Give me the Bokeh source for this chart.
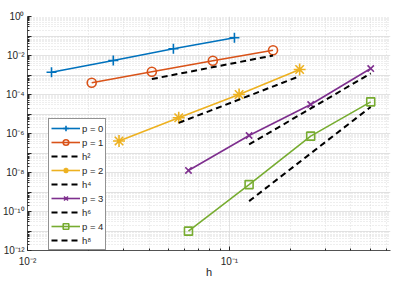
from bokeh.plotting import figure
from bokeh.models import Range1d, FixedTicker, CustomJSTickFormatter, Legend, LegendItem
from bokeh.embed import file_html
from bokeh.resources import INLINE

# ---- data ----
h_p0 = [0.01315, 0.0266, 0.0528, 0.1059]
err_p0 = [1.39e-3, 5.5e-3, 2.2e-2, 8.1e-2]

h_p1 = [0.0208, 0.0413, 0.0828, 0.1645]
err_p1 = [4.0e-4, 1.46e-3, 5.35e-3, 1.87e-2]
ref_h2_x = [0.0413, 0.1645]
ref_h2_y = [6.2e-4, 1.0e-2]

h_p2 = [0.0284, 0.0561, 0.1117, 0.2228]
err_p2 = [4.1e-7, 6.4e-6, 1.0e-4, 1.91e-3]
ref_h4_x = [0.0561, 0.2228]
ref_h4_y = [3.5e-6, 8.7e-4]

h_p3 = [0.0627, 0.1252, 0.2527, 0.5012]
err_p3 = [1.27e-8, 7.9e-7, 3.07e-5, 2.15e-3]
ref_h6_x = [0.1252, 0.5012]
ref_h6_y = [2.75e-7, 1.2e-3]

h_p4 = [0.0627, 0.1252, 0.2527, 0.5012]
err_p4 = [9.8e-12, 2.4e-9, 7.3e-7, 4.2e-5]
ref_h8_x = [0.1252, 0.5012]
ref_h8_y = [3.4e-10, 2.3e-5]

series_labels = ["p = 0", "p = 1", "p = 2", "p = 3", "p = 4"]
ref_labels = ["h\u00b2", "h\u2074", "h\u2076", "h\u2078"]
x_label = "h"

x_major = [0.01, 0.1]
x_minor = [m * 0.01 for m in range(2, 10)] + [m * 0.1 for m in range(2, 7)]
y_major = [10.0 ** (-k) for k in range(0, 13)]
y_minor = [m * 10.0 ** (-k) for k in range(1, 13) for m in range(2, 10)]

colors = ["#0072BD", "#D95319", "#EDB120", "#7E2F8E", "#77AC30"]
FONT = "Liberation Sans"
TXT = "#262626"

p = figure(x_axis_type="log", y_axis_type="log",
           frame_width=363, frame_height=234,
           min_border_left=22, min_border_top=16, min_border_right=3, min_border_bottom=20,
           output_backend="svg", toolbar_location=None,
           x_range=Range1d(0.01, 0.628), y_range=Range1d(1e-12, 1.0))
p.outline_line_color = None
p.background_fill_color = "white"

sup_js = """
const sup = {"-":"\u207b","0":"\u2070","1":"\u00b9","2":"\u00b2","3":"\u00b3","4":"\u2074",
             "5":"\u2075","6":"\u2076","7":"\u2077","8":"\u2078","9":"\u2079"};
const e = Math.round(Math.log10(tick));
%s
return "10" + String(e).split("").map(c => sup[c]).join("");
"""
p.xaxis.ticker = FixedTicker(ticks=x_major, minor_ticks=x_minor)
p.yaxis.ticker = FixedTicker(ticks=y_major, minor_ticks=y_minor)
p.xaxis.formatter = CustomJSTickFormatter(code=sup_js % "")
p.yaxis.formatter = CustomJSTickFormatter(code=sup_js % "if (e % 2 != 0) return '';")

for ax in (p.xaxis[0], p.yaxis[0]):
    ax.major_label_text_font = FONT
    ax.major_label_text_font_size = "10px"
    ax.major_label_text_color = TXT
    ax.axis_line_color = TXT
    ax.axis_line_width = 0.8
    ax.major_tick_line_color = TXT
    ax.minor_tick_line_color = TXT
    ax.major_tick_in = 4
    ax.major_tick_out = 0
    ax.minor_tick_in = 2
    ax.minor_tick_out = 0
p.yaxis.major_label_standoff = 3
p.xaxis.major_label_standoff = 5
p.xaxis.axis_label = x_label
p.xaxis.axis_label_text_font = FONT
p.xaxis.axis_label_text_font_size = "11px"
p.xaxis.axis_label_text_font_style = "normal"
p.xaxis.axis_label_text_color = TXT
p.xaxis.axis_label_standoff = -4

for g in (p.xgrid[0], p.ygrid[0]):
    g.grid_line_color = "#dcdcdc"
    g.grid_line_width = 0.8
    g.minor_grid_line_color = "#d4d4d4"
    g.minor_grid_line_dash = "1 2"
    g.minor_grid_line_width = 0.8

xs = [h_p0, h_p1, h_p2, h_p3, h_p4]
ys = [err_p0, err_p1, err_p2, err_p3, err_p4]
markers = ["cross", "circle", "asterisk", "x", "square"]
msizes = [10, 9, 12, 9, 8]
refs = [None, (ref_h2_x, ref_h2_y), (ref_h4_x, ref_h4_y), (ref_h6_x, ref_h6_y), (ref_h8_x, ref_h8_y)]

items = []
for i in range(5):
    ln = p.line(xs[i], ys[i], line_color=colors[i], line_width=1.6)
    sc = p.scatter(xs[i], ys[i], marker=markers[i], size=msizes[i],
                   line_color=colors[i], fill_color=None, line_width=1.6)
    items.append(LegendItem(label=series_labels[i], renderers=[ln, sc]))
    if refs[i] is not None:
        rl = p.line(refs[i][0], refs[i][1], line_color="black", line_width=2, line_dash="6 4")
        items.append(LegendItem(label=ref_labels[i - 1], renderers=[rl]))

legend = Legend(items=items, location=(21, 0))
legend.label_text_font = FONT
legend.label_text_font_size = "9.5px"
legend.label_text_color = TXT
legend.glyph_width = 29
legend.glyph_height = 14
legend.label_height = 14
legend.label_standoff = 2
legend.spacing = 0
legend.padding = 2
legend.margin = 0
legend.border_line_color = "#262626"
legend.border_line_width = 0.8
legend.background_fill_alpha = 1.0
p.add_layout(legend, "center")

open("out.html", "w").write(file_html(p, INLINE))
